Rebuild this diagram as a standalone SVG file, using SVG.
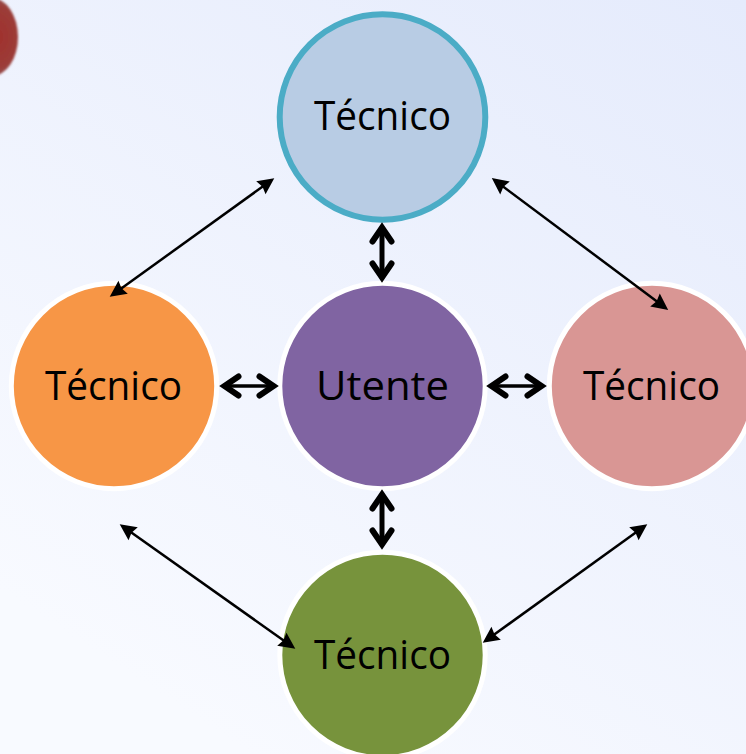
<svg xmlns="http://www.w3.org/2000/svg" width="746" height="754" viewBox="0 0 746 754">
<style>
.lbl{font-family:"Open Sans","Noto Sans",sans-serif;font-size:41px;fill:#000;text-anchor:middle}
.ring{stroke:#fff;stroke-width:5}
.thin{stroke:#000;stroke-width:2.5;fill:none;marker-start:url(#tri);marker-end:url(#tri)}
.thick{stroke:#000;fill:none;marker-start:url(#chev);marker-end:url(#chev)}
.v{stroke-width:5}
.h{stroke-width:3.5}
</style>
<defs>
<linearGradient id="bg" gradientUnits="userSpaceOnUse" x1="746" y1="0" x2="250" y2="754">
<stop offset="0" stop-color="#e5ebfc"/><stop offset="1" stop-color="#f8faff"/>
</linearGradient>
<radialGradient id="blob" cx="0.6" cy="0.5" r="0.6">
<stop offset="0" stop-color="#a0302c"/><stop offset="0.65" stop-color="#9c3c38"/><stop offset="1" stop-color="#8f6664"/>
</radialGradient>
<marker id="tri" markerUnits="userSpaceOnUse" markerWidth="20" markerHeight="20" refX="10" refY="8" orient="auto-start-reverse" overflow="visible">
<path d="M0,0 L16.5,8 L0,16 L2,8 Z" fill="#000"/>
</marker>
<marker id="chev" markerUnits="userSpaceOnUse" markerWidth="24" markerHeight="24" refX="14" refY="10" orient="auto-start-reverse" overflow="visible">
<path d="M0,0.5 L14,10 L0,19.5" fill="none" stroke="#000" stroke-width="6" stroke-linecap="round" stroke-linejoin="miter"/>
</marker>
<filter id="soft" x="-20%" y="-20%" width="140%" height="140%"><feGaussianBlur stdDeviation="1"/></filter>
</defs>
<rect width="746" height="754" fill="url(#bg)"/>
<ellipse id="blob-shape" cx="-8" cy="37" rx="26" ry="39" fill="url(#blob)" filter="url(#soft)"/>
<g id="n-top">
<circle cx="382.5" cy="117" r="102.8" fill="#b8cce4" stroke="#4bacc6" stroke-width="6"/>
<text class="lbl" x="382.5" y="130" textLength="137" lengthAdjust="spacingAndGlyphs">Técnico</text>
</g>
<g id="n-left">
<circle class="ring" cx="114" cy="386" r="102.7" fill="#f79646"/>
<text class="lbl" x="113.5" y="400" textLength="137" lengthAdjust="spacingAndGlyphs">Técnico</text>
</g>
<g id="n-center">
<circle class="ring" cx="382.5" cy="386" r="102.7" fill="#8064a2"/>
<text class="lbl" x="382.5" y="400" textLength="133" lengthAdjust="spacingAndGlyphs">Utente</text>
</g>
<g id="n-right">
<circle class="ring" cx="652" cy="386" r="102.7" fill="#d99694"/>
<text class="lbl" x="651.5" y="400" textLength="137" lengthAdjust="spacingAndGlyphs">Técnico</text>
</g>
<g id="n-bottom">
<circle class="ring" cx="382.5" cy="655" r="102.7" fill="#77933c"/>
<text class="lbl" x="382.5" y="669" textLength="137" lengthAdjust="spacingAndGlyphs">Técnico</text>
</g>
<g id="connectors">
<line class="thin" x1="115" y1="293" x2="269" y2="182"/>
<line class="thin" x1="497" y1="182" x2="663" y2="306"/>
<line class="thin" x1="125" y1="528" x2="290" y2="645"/>
<line class="thin" x1="642" y1="528" x2="488" y2="639"/>
<line class="thick v" x1="382" y1="227.5" x2="382" y2="277.5"/>
<line class="thick v" x1="382" y1="494.5" x2="382" y2="544.5"/>
<line class="thick h" x1="224.5" y1="386" x2="273.5" y2="386"/>
<line class="thick h" x1="491.5" y1="386" x2="541.5" y2="386"/>
</g>
</svg>
